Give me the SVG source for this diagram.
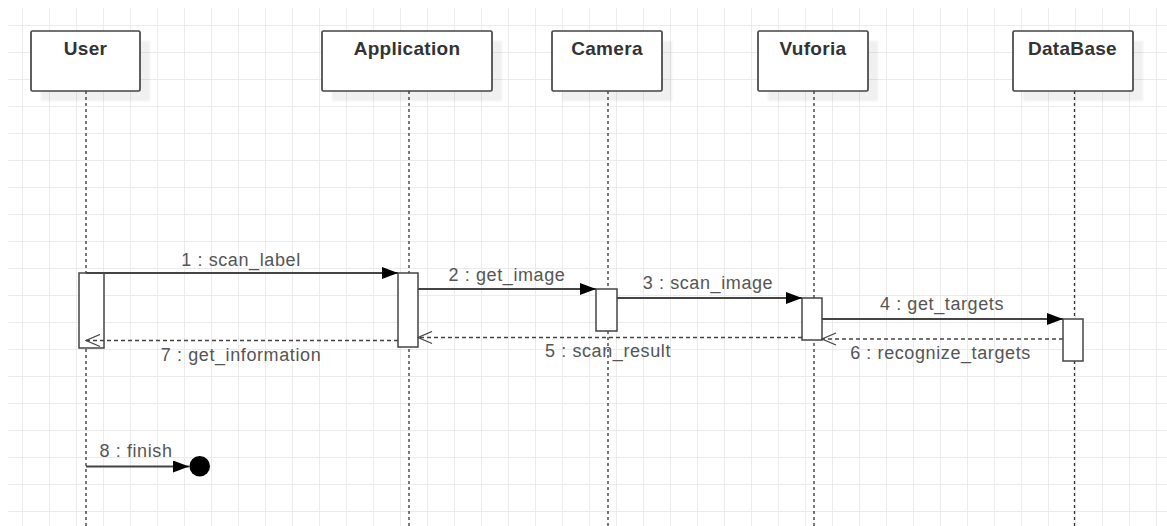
<svg xmlns="http://www.w3.org/2000/svg" width="1167" height="526" viewBox="0 0 1167 526">
  <style>
    .box { fill: #ffffff; stroke: #444444; stroke-width: 1.7; }
    .shadow { fill: #000000; fill-opacity: 0.06; filter: url(#soft); }
    .head { font-family: "Liberation Sans", Arial, sans-serif; font-size: 19px; font-weight: bold; fill: #333333; text-anchor: middle; letter-spacing: 0.3px; }
    .life { stroke: #333333; stroke-width: 1.3; stroke-dasharray: 3 3; fill: none; }
    .act { fill: #ffffff; stroke: #444444; stroke-width: 1.5; }
    .msg { stroke: #444444; stroke-width: 2; fill: none; }
    .ret { stroke: #444444; stroke-width: 1.3; stroke-dasharray: 4 3; fill: none; }
    .lbl { font-family: "Liberation Sans", Arial, sans-serif; font-size: 18px; fill: #555555; text-anchor: middle; letter-spacing: 0.6px; }
  </style>
  <defs>
    <filter id="soft" x="-10%" y="-10%" width="120%" height="120%">
      <feGaussianBlur stdDeviation="1.2"/>
    </filter>
    <pattern id="grid" patternUnits="userSpaceOnUse" x="22" y="25" width="27" height="27">
      <path d="M0.5 0 V27 M0 0.5 H27" stroke="#ebebeb" stroke-width="1" fill="none"/>
    </pattern>
    <marker id="block" markerUnits="userSpaceOnUse" viewBox="0 0 16 12" refX="16" refY="6" markerWidth="16" markerHeight="12" orient="auto">
      <path d="M0 0 L16 6 L0 12 Z" fill="#000000"/>
    </marker>
    <marker id="open" markerUnits="userSpaceOnUse" viewBox="0 0 16 14" refX="15" refY="7" markerWidth="16" markerHeight="14" orient="auto">
      <path d="M1 1 L15 7 L1 13" fill="none" stroke="#444444" stroke-width="1.3"/>
    </marker>
  </defs>

  <rect x="8" y="8" width="1159" height="518" fill="#ffffff"/>
  <rect x="8" y="8" width="1159" height="518" fill="url(#grid)"/>

  <g id="lifelines">
    <line class="life" x1="86" y1="91" x2="86" y2="526"/>
    <line class="life" x1="409" y1="91" x2="409" y2="526"/>
    <line class="life" x1="608" y1="91" x2="608" y2="526"/>
    <line class="life" x1="814" y1="91" x2="814" y2="526"/>
    <line class="life" x1="1074.5" y1="91" x2="1074.5" y2="526"/>
  </g>

  <g id="node-user">
    <rect class="shadow" x="41" y="41" width="109" height="60"/>
    <rect class="box" x="31" y="31" width="109" height="60" rx="1.5"/>
    <text class="head" x="85.5" y="55">User</text>
    <rect class="act" x="79" y="273" width="25" height="75"/>
  </g>
  <g id="node-application">
    <rect class="shadow" x="332" y="41" width="170" height="60"/>
    <rect class="box" x="322" y="31" width="170" height="60" rx="1.5"/>
    <text class="head" x="407" y="55">Application</text>
    <rect class="act" x="398" y="273" width="20" height="74"/>
  </g>
  <g id="node-camera">
    <rect class="shadow" x="562" y="41" width="110" height="60"/>
    <rect class="box" x="552" y="31" width="110" height="60" rx="1.5"/>
    <text class="head" x="607" y="55">Camera</text>
    <rect class="act" x="596" y="289" width="21" height="42"/>
  </g>
  <g id="node-vuforia">
    <rect class="shadow" x="768" y="41" width="110" height="60"/>
    <rect class="box" x="758" y="31" width="110" height="60" rx="1.5"/>
    <text class="head" x="813" y="55">Vuforia</text>
    <rect class="act" x="802" y="298" width="20" height="42"/>
  </g>
  <g id="node-database">
    <rect class="shadow" x="1023" y="41" width="120" height="60"/>
    <rect class="box" x="1013" y="31" width="120" height="60" rx="1.5"/>
    <text class="head" x="1072.5" y="55">DataBase</text>
    <rect class="act" x="1063" y="319" width="20" height="42"/>
  </g>
  <g id="node-end">
    <circle cx="199.7" cy="466.3" r="10.3" fill="#000000"/>
  </g>

  <g id="connectors">
    <line class="msg" x1="86" y1="273" x2="398" y2="273" marker-end="url(#block)"/>
    <text class="lbl" x="241" y="266">1 : scan_label</text>

    <line class="msg" x1="418" y1="289" x2="596" y2="289" marker-end="url(#block)"/>
    <text class="lbl" x="507" y="281">2 : get_image</text>

    <line class="msg" x1="617" y1="298" x2="802" y2="298" marker-end="url(#block)"/>
    <text class="lbl" x="708" y="289">3 : scan_image</text>

    <line class="msg" x1="822" y1="319" x2="1063" y2="319" marker-end="url(#block)"/>
    <text class="lbl" x="942" y="310">4 : get_targets</text>

    <line class="ret" x1="1063" y1="339" x2="822" y2="339" marker-end="url(#open)"/>
    <text class="lbl" x="940.5" y="359">6 : recognize_targets</text>

    <line class="ret" x1="802" y1="337.5" x2="418" y2="337.5" marker-end="url(#open)"/>
    <text class="lbl" x="608" y="357">5 : scan_result</text>

    <line class="ret" x1="398" y1="340.5" x2="86" y2="340.5" marker-end="url(#open)"/>
    <text class="lbl" x="241" y="361">7 : get_information</text>

    <line class="msg" x1="86" y1="466.5" x2="189" y2="466.5" marker-end="url(#block)"/>
    <text class="lbl" x="136" y="457">8 : finish</text>
  </g>
</svg>
